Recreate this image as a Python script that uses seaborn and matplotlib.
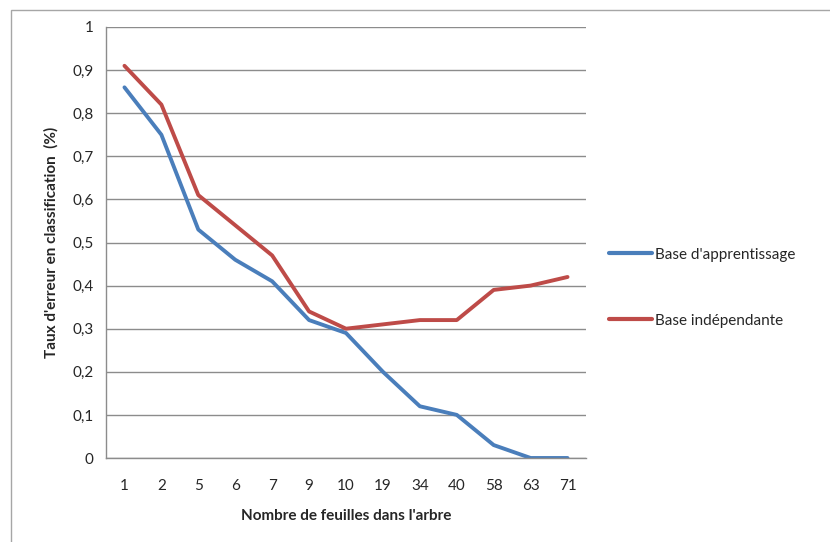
import matplotlib
matplotlib.use("Agg")
import matplotlib.pyplot as plt
import seaborn as sns
import pandas as pd
import numpy as np
from matplotlib.patches import Rectangle

categories = ["1", "2", "5", "6", "7", "9", "10", "19", "34", "40", "58", "63", "71"]
apprentissage = [0.86, 0.75, 0.53, 0.46, 0.41, 0.32, 0.29, 0.20, 0.12, 0.10, 0.03, 0.00, 0.00]
independante = [0.91, 0.82, 0.61, 0.54, 0.47, 0.34, 0.30, 0.31, 0.32, 0.32, 0.39, 0.40, 0.42]
series_names = ["Base d'apprentissage", "Base indépendante"]
y_ticks = [0, 0.1, 0.2, 0.3, 0.4, 0.5, 0.6, 0.7, 0.8, 0.9, 1.0]
y_labels = ["0", "0,1", "0,2", "0,3", "0,4", "0,5", "0,6", "0,7", "0,8", "0,9", "1"]

sns.set_style("white")
plt.rcParams['font.family'] = ['Lato', 'DejaVu Sans']

pos = list(range(len(categories)))
df = pd.DataFrame({
    "pos": pos * 2,
    "val": apprentissage + independante,
    "serie": [series_names[0]] * len(categories) + [series_names[1]] * len(categories),
})

fig = plt.figure(figsize=(8.3, 5.42), dpi=100)
ax = fig.add_axes([106/830, 1 - 458/542, 480/830, 431/542])

# outer chart border
fig.patches.append(Rectangle((11/830, -0.1), 1.0, 1 - 10/542 + 0.1, transform=fig.transFigure,
                             fill=False, edgecolor="#a6a6a6", linewidth=1.0))

sns.lineplot(data=df, x="pos", y="val", hue="serie",
             palette=["#4A7EBB", "#BE4B48"], linewidth=2.8, ax=ax, legend=True)

ax.set_xlim(-0.5, len(categories) - 0.5)
ax.set_ylim(0, 1)
ax.set_yticks(y_ticks)
ax.set_yticklabels(y_labels, fontsize=11)
ax.set_xticks(pos)
ax.set_xticklabels(categories, fontsize=11)
ax.yaxis.grid(True, color="#8c8c8c", linewidth=1.0)
ax.set_axisbelow(True)

for s in ["top", "right"]:
    ax.spines[s].set_visible(False)
for s in ["left", "bottom"]:
    ax.spines[s].set_color("#8c8c8c")
    ax.spines[s].set_linewidth(1.0)

# x ticks at category boundaries
ax.set_xticks(np.arange(-0.5, len(categories), 1.0), minor=True)
ax.tick_params(axis="x", which="major", length=0, pad=15)
ax.tick_params(axis="x", which="minor", length=5, color="#8c8c8c", direction="out")
ax.tick_params(axis="y", which="major", length=5, color="#8c8c8c", direction="out", pad=4)

ax.set_xlabel("Nombre de feuilles dans l'arbre", fontsize=11, fontweight="bold", labelpad=12)
ax.set_ylabel("Taux d'erreur en classification  (%)", fontsize=11, fontweight="bold", labelpad=10)

leg = ax.legend(loc="center left", bbox_to_anchor=(1.02, 0.395), frameon=False,
                fontsize=11, handlelength=2.8, handletextpad=0.2, labelspacing=3.4)
for line in leg.get_lines():
    line.set_linewidth(3)

fig.savefig("out.png", dpi=100)
